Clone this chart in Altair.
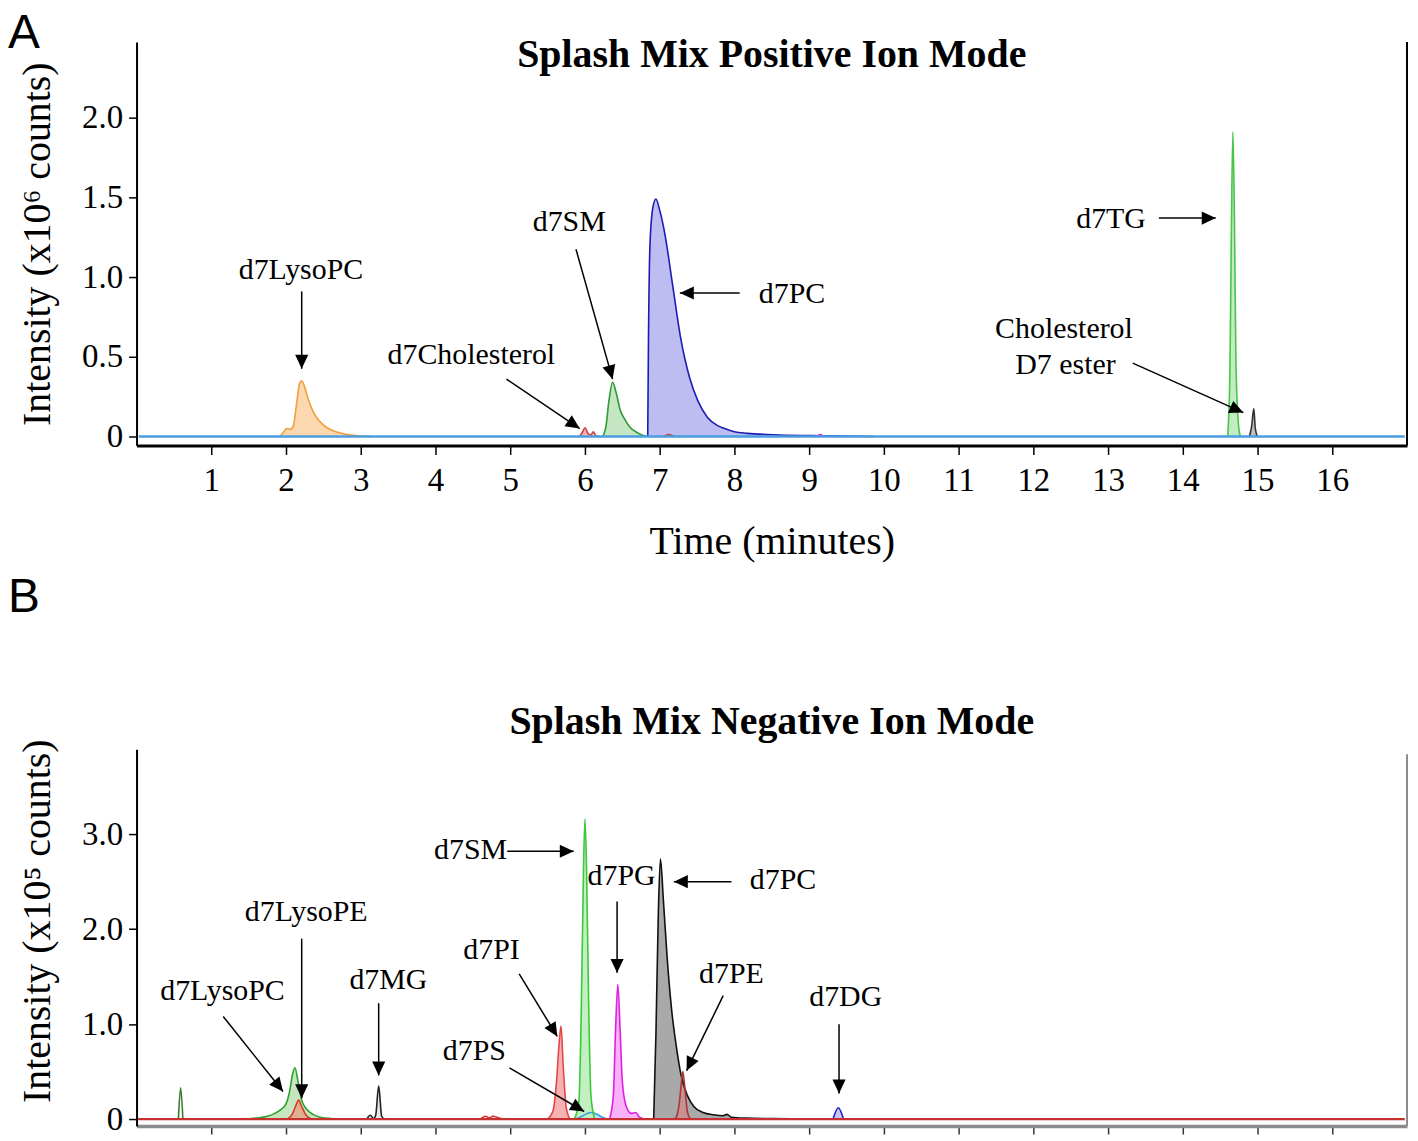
import math
import altair as alt
import pandas as pd

# ---------------- Panel A: positive ion mode (time in min, intensity x10^6) ----------------
A_LYSOPC_T = [1.92, 1.97, 2.01, 2.06, 2.1, 2.14, 2.18, 2.21, 2.25, 2.3, 2.37, 2.45, 2.55, 2.68, 2.82, 3.0, 3.15]
A_LYSOPC_Y = [0, 0.03, 0.05, 0.045, 0.07, 0.2, 0.33, 0.35, 0.31, 0.23, 0.15, 0.095, 0.055, 0.028, 0.012, 0.004, 0]
A_CHOL_T = [5.93, 5.97, 6.0, 6.04, 6.08, 6.11, 6.15, 6.2]
A_CHOL_Y = [0, 0.03, 0.055, 0.02, 0.01, 0.03, 0.005, 0]
A_SM_T = [6.24, 6.28, 6.32, 6.37, 6.42, 6.47, 6.53, 6.6, 6.68, 6.76, 6.84]
A_SM_Y = [0, 0.06, 0.22, 0.34, 0.27, 0.17, 0.11, 0.06, 0.03, 0.01, 0]
A_PC_T = [6.84, 6.85, 6.87, 6.91, 6.95, 7.0, 7.07, 7.17, 7.28, 7.4, 7.51, 7.64, 7.77, 7.87, 8.0, 8.17, 8.6, 9.2, 9.87]
A_PC_Y = [0, 0.6, 1.2, 1.44, 1.49, 1.42, 1.27, 0.96, 0.62, 0.37, 0.225, 0.12, 0.07, 0.05, 0.03, 0.02, 0.01, 0.005, 0]
A_RED_T = [7.05, 7.12, 7.2]
A_RED_Y = [0, 0.012, 0]
A_MAG_T = [9.1, 9.15, 9.2]
A_MAG_Y = [0, 0.012, 0]
A_TG_T = [14.6, 14.63, 14.65, 14.67, 14.69, 14.71, 14.74, 14.77]
A_TG_Y = [0, 0.4, 1.3, 1.91, 1.4, 0.5, 0.1, 0]
A_EST_T = [14.89, 14.92, 14.95, 14.97, 15.0]
A_EST_Y = [0, 0.06, 0.175, 0.05, 0]
A_BASE_T = [0.03, 16.97]
A_BASE_Y = [0, 0]

A_LABELS = ["d7LysoPC", "d7Cholesterol", "d7SM", "d7PC", "d7TG", "Cholesterol", "D7 ester"]
A_LABEL_T = [2.2, 4.48, 5.79, 8.77, 13.04, 12.41, 12.43]
A_LABEL_Y = [0.99, 0.456, 1.29, 0.84, 1.31, 0.62, 0.39]
# arrows: start (t, y) -> tip (t, y)
A_ARROW_T0 = [2.21, 4.95, 5.88, 8.07, 13.68, 13.33]
A_ARROW_Y0 = [0.91, 0.36, 1.175, 0.90, 1.37, 0.46]
A_ARROW_T1 = [2.21, 5.93, 6.37, 7.27, 14.44, 14.81]
A_ARROW_Y1 = [0.425, 0.05, 0.36, 0.90, 1.37, 0.15]

# ---------------- Panel B: negative ion mode (time in min, intensity x10^5) ----------------
B_SPIKE_T = [0.56, 0.59, 0.62]
B_SPIKE_Y = [0, 0.33, 0]
B_LYSOPC_T = [1.45, 1.6, 1.75, 1.85, 1.93, 2.0, 2.05, 2.09, 2.12, 2.16, 2.21, 2.28, 2.36, 2.46, 2.6, 2.78]
B_LYSOPC_Y = [0, 0.01, 0.03, 0.06, 0.1, 0.16, 0.3, 0.48, 0.54, 0.4, 0.2, 0.1, 0.05, 0.02, 0.006, 0]
B_LYSOPE_T = [2.02, 2.09, 2.13, 2.17, 2.21, 2.27, 2.34]
B_LYSOPE_Y = [0, 0.06, 0.14, 0.2, 0.13, 0.04, 0]
B_MG_T = [3.08, 3.13, 3.17, 3.2, 3.24, 3.28, 3.32]
B_MG_Y = [0, 0.04, 0.005, 0.04, 0.35, 0.03, 0]
B_RED_T = [4.6, 4.67, 4.72, 4.77, 4.82, 4.9]
B_RED_Y = [0, 0.03, 0.01, 0.03, 0.02, 0]
B_PI_T = [5.5, 5.57, 5.62, 5.65, 5.68, 5.71, 5.75, 5.8]
B_PI_Y = [0, 0.08, 0.4, 0.75, 0.98, 0.55, 0.12, 0]
B_PS_T = [5.88, 5.96, 6.03, 6.09, 6.16, 6.23, 6.3]
B_PS_Y = [0, 0.03, 0.06, 0.07, 0.05, 0.02, 0]
B_SM_T = [5.86, 5.92, 5.95, 5.98, 6.0, 6.02, 6.05, 6.08, 6.13]
B_SM_Y = [0, 0.2, 1.1, 2.6, 3.16, 2.7, 1.2, 0.25, 0]
B_PG_T = [6.33, 6.38, 6.41, 6.44, 6.47, 6.5, 6.55, 6.62, 6.68, 6.73, 6.8]
B_PG_Y = [0, 0.25, 0.95, 1.42, 0.95, 0.4, 0.14, 0.06, 0.07, 0.02, 0]
B_PC_T = [6.92, 6.95, 6.98, 7.01, 7.05, 7.1, 7.16, 7.22, 7.29, 7.37, 7.46, 7.58, 7.72, 7.85, 7.9, 7.96, 8.15, 8.5, 9.0]
B_PC_Y = [0, 0.9, 2.1, 2.74, 2.3, 1.7, 1.15, 0.78, 0.45, 0.25, 0.13, 0.07, 0.045, 0.035, 0.05, 0.02, 0.01, 0.005, 0]
B_PE_T = [7.21, 7.26, 7.29, 7.31, 7.34, 7.37, 7.41]
B_PE_Y = [0, 0.15, 0.38, 0.5, 0.3, 0.08, 0]
B_DG_T = [9.32, 9.39, 9.46]
B_DG_Y = [0, 0.12, 0]
B_BASE_T = [0.02, 16.97]
B_BASE_Y = [0, 0]

B_LABELS = ["d7LysoPC", "d7LysoPE", "d7MG", "d7PI", "d7PS", "d7SM", "d7PG", "d7PC", "d7PE", "d7DG"]
B_LABEL_T = [1.15, 2.27, 3.37, 4.75, 4.52, 4.47, 6.49, 8.65, 7.96, 9.49]
B_LABEL_Y = [1.25, 2.09, 1.37, 1.69, 0.62, 2.74, 2.46, 2.42, 1.43, 1.19]
B_ARROW_T0 = [1.16, 2.21, 3.24, 5.12, 4.99, 4.96, 6.43, 7.96, 7.85, 9.40]
B_ARROW_Y0 = [1.08, 1.90, 1.22, 1.53, 0.54, 2.82, 2.29, 2.50, 1.30, 1.00]
B_ARROW_T1 = [1.96, 2.21, 3.24, 5.63, 5.99, 5.85, 6.43, 7.19, 7.36, 9.40]
B_ARROW_Y1 = [0.29, 0.22, 0.46, 0.87, 0.08, 2.82, 1.54, 2.50, 0.51, 0.27]

TITLE_A = "Splash Mix Positive Ion Mode"
TITLE_B = "Splash Mix Negative Ion Mode"
YTITLE_A = "Intensity (x10\u2076 counts)"
YTITLE_B = "Intensity (x10\u2075 counts)"
XTITLE = "Time (minutes)"
X_TICKS = list(range(1, 17))

# ---------------- styles ----------------
SERIF = "Liberation Serif"
SANS = "Liberation Sans"
W = 1275
HA = 405
HB = 378
X_DOM = [0, 17]
YA_DOM = [-0.056, 2.475]
YB_DOM = [-0.073, 3.893]
PX_X = W / (X_DOM[1] - X_DOM[0])
PX_YA = HA / (YA_DOM[1] - YA_DOM[0])
PX_YB = HB / (YB_DOM[1] - YB_DOM[0])
ARROW_PATH = "M0,0L-0.47,1L0.47,1Z"

# name, times, values, stroke, fill (None = line only)
A_SERIES = [
    ("A_LysoPC", A_LYSOPC_T, A_LYSOPC_Y, "#f0a03c", "#fbd4a6"),
    ("A_Chol", A_CHOL_T, A_CHOL_Y, "#cc4444", "#f0b0b0"),
    ("A_SM", A_SM_T, A_SM_Y, "#2f9a36", "#bfe3bb"),
    ("A_PC", A_PC_T, A_PC_Y, "#1c1cb4", "#b6b6f0"),
    ("A_Red", A_RED_T, A_RED_Y, "#cc4444", None),
    ("A_Mag", A_MAG_T, A_MAG_Y, "#dd33dd", None),
    ("A_TG", A_TG_T, A_TG_Y, "#48c648", "#bdeabd"),
    ("A_Est", A_EST_T, A_EST_Y, "#333333", "#bbbbbb"),
]
A_BASELINE = ("A_Base", A_BASE_T, A_BASE_Y, "#4a9ee0", None)
B_SERIES = [
    ("B_Spike", B_SPIKE_T, B_SPIKE_Y, "#3a7a30", None),
    ("B_LysoPC", B_LYSOPC_T, B_LYSOPC_Y, "#2ea02e", "#bfe3b8"),
    ("B_LysoPE", B_LYSOPE_T, B_LYSOPE_Y, "#d83a2a", "#e2aa88"),
    ("B_MG", B_MG_T, B_MG_Y, "#222222", "#e4e4e4"),
    ("B_Red", B_RED_T, B_RED_Y, "#d83030", None),
    ("B_PI", B_PI_T, B_PI_Y, "#e04848", "#f5aaaa"),
    ("B_PS", B_PS_T, B_PS_Y, "#3aa0e0", "#b8dcf5"),
    ("B_SM", B_SM_T, B_SM_Y, "#3cc83c", "#bdeebd"),
    ("B_PG", B_PG_T, B_PG_Y, "#e020e0", "#f8a8f8"),
    ("B_PC", B_PC_T, B_PC_Y, "#111111", "#a0a0a0"),
    ("B_PE", B_PE_T, B_PE_Y, "#a83838", "#c89090"),
    ("B_DG", B_DG_T, B_DG_Y, "#2020c8", "#c0c0f0"),
]
B_BASELINE = ("B_Base", B_BASE_T, B_BASE_Y, "#c83030", None)


def series_df(series, with_fill_only=False):
    rows = []
    for name, ts, ys, _s, f in series:
        if with_fill_only and f is None:
            continue
        for t, y in zip(ts, ys):
            rows.append({"series": name, "t": t, "y": y})
    return pd.DataFrame(rows)


def arrow_df(t0, y0, t1, y1, px_y):
    rows = []
    for a, b, c, d in zip(t0, y0, t1, y1):
        dxp = (c - a) * PX_X
        dyp = -(d - b) * px_y
        ang = math.degrees(math.atan2(dxp, -dyp)) % 360
        rows.append({"x0": a, "y0": b, "x1": c, "y1": d, "ang": ang})
    return pd.DataFrame(rows)


def panel(series, baseline, labels, lt, ly, at0, ay0, at1, ay1, y_dom, height, px_y,
          y_values, y_title, title, panel_letter, title_y, letter_y, bottom_axis, y_title_y):
    sx = alt.Scale(domain=X_DOM, nice=False, zero=False)
    sy = alt.Scale(domain=y_dom, nice=False, zero=False)
    names = [s[0] for s in series]
    strokes = [s[3] for s in series]
    fill_series = [s for s in series if s[4] is not None]
    fill_names = [s[0] for s in fill_series]
    fills = [s[4] for s in fill_series]

    if bottom_axis:
        x_axis = alt.Axis(values=X_TICKS, format="d", title=XTITLE, grid=False,
                          labelFont=SERIF, labelFontSize=33, labelColor="black",
                          labelPadding=10, tickSize=9, tickColor="black", tickWidth=1.5,
                          domainColor="black", domainWidth=3,
                          titleFont=SERIF, titleFontSize=40, titleFontWeight="normal",
                          titleColor="black", titlePadding=24, labelFlush=False)
    else:
        x_axis = alt.Axis(values=X_TICKS, labels=False, title=None, grid=False,
                          tickSize=8, tickColor="#333333", tickWidth=1.5,
                          domainColor="#8c8c8c", domainWidth=3.5)

    y_kwargs = dict(values=y_values, title=y_title, grid=False,
                    labelExpr="datum.value == 0 ? '0' : format(datum.value, '.1f')",
                    labelFont=SERIF, labelFontSize=33, labelColor="black", labelPadding=6,
                    tickSize=8, tickColor="black", tickWidth=1.5,
                    domainColor="black", domainWidth=2,
                    titleFont=SERIF, titleFontSize=40, titleFontWeight="normal",
                    titleColor="black", titlePadding=24)
    if y_title_y is not None:
        y_kwargs["titleY"] = y_title_y
    y_axis = alt.Axis(**y_kwargs)

    area = alt.Chart(series_df(series, True)).mark_area(
        fillOpacity=0.9, interpolate="monotone").encode(
        x=alt.X("t:Q", scale=sx, axis=x_axis),
        y=alt.Y("y:Q", scale=sy, axis=y_axis, stack=None),
        fill=alt.Fill("series:N", scale=alt.Scale(domain=fill_names, range=fills), legend=None),
    )
    line = alt.Chart(series_df(series)).mark_line(
        strokeWidth=1.6, interpolate="monotone").encode(
        x=alt.X("t:Q", scale=sx, axis=x_axis),
        y=alt.Y("y:Q", scale=sy, axis=y_axis),
        stroke=alt.Stroke("series:N", scale=alt.Scale(domain=names, range=strokes), legend=None),
    )
    base = alt.Chart(series_df([baseline])).mark_line(
        strokeWidth=2.4, color=baseline[3]).encode(
        x=alt.X("t:Q", scale=sx, axis=x_axis),
        y=alt.Y("y:Q", scale=sy, axis=y_axis),
    )
    ldf = pd.DataFrame({"label": labels, "lt": lt, "ly": ly})
    text = alt.Chart(ldf).mark_text(font=SERIF, fontSize=30, color="black",
                                     align="center", baseline="alphabetic").encode(
        x=alt.X("lt:Q", scale=sx, axis=x_axis),
        y=alt.Y("ly:Q", scale=sy, axis=y_axis),
        text="label:N",
    )
    adf = arrow_df(at0, ay0, at1, ay1, px_y)
    rules = alt.Chart(adf).mark_rule(color="black", strokeWidth=1.5).encode(
        x=alt.X("x0:Q", scale=sx, axis=x_axis), x2="x1:Q",
        y=alt.Y("y0:Q", scale=sy, axis=y_axis), y2="y1:Q",
    )
    heads = alt.Chart(adf).mark_point(shape=ARROW_PATH, filled=True, size=784,
                                      color="black", opacity=1, strokeWidth=0).encode(
        x=alt.X("x1:Q", scale=sx, axis=x_axis),
        y=alt.Y("y1:Q", scale=sy, axis=y_axis),
        angle=alt.Angle("ang:Q", scale=None),
    )
    tdf = pd.DataFrame({"label": [title]})
    ttl = alt.Chart(tdf).mark_text(font=SERIF, fontSize=40, fontWeight="bold", color="black",
                                   align="center", baseline="alphabetic").encode(
        x=alt.value(W / 2), y=alt.value(title_y), text="label:N")
    pdf = pd.DataFrame({"label": [panel_letter]})
    letter = alt.Chart(pdf).mark_text(font=SANS, fontSize=48, color="black",
                                      align="left", baseline="top").encode(
        x=alt.value(-129), y=alt.value(letter_y), text="label:N")
    bdf = pd.DataFrame({"k": [0]})
    border = alt.Chart(bdf).mark_rule(
        color="black" if bottom_axis else "#8c8c8c", strokeWidth=2).encode(
        x=alt.value(W), y=alt.value(0 if bottom_axis else 5), y2=alt.value(height))

    return alt.layer(area, line, base, rules, heads, text, ttl, letter, border).properties(
        width=W, height=height)


chart_a = panel(A_SERIES, A_BASELINE, A_LABELS, A_LABEL_T, A_LABEL_Y,
                A_ARROW_T0, A_ARROW_Y0, A_ARROW_T1, A_ARROW_Y1,
                YA_DOM, HA, PX_YA, [0, 0.5, 1, 1.5, 2], YTITLE_A, TITLE_A, "A",
                25, -32, True, None)
chart_b = panel(B_SERIES, B_BASELINE, B_LABELS, B_LABEL_T, B_LABEL_Y,
                B_ARROW_T0, B_ARROW_Y0, B_ARROW_T1, B_ARROW_Y1,
                YB_DOM, HB, PX_YB, [0, 1, 2, 3], YTITLE_B, TITLE_B, "B",
                -15, -176, False, 172)

chart = alt.vconcat(chart_a, chart_b, spacing=305, bounds="flush").properties(
    padding=0).resolve_scale(
    fill="independent", stroke="independent",
    x="independent", y="independent").configure_view(stroke=None)

chart.save("out.html", embed_options={"renderer": "svg", "actions": False})
